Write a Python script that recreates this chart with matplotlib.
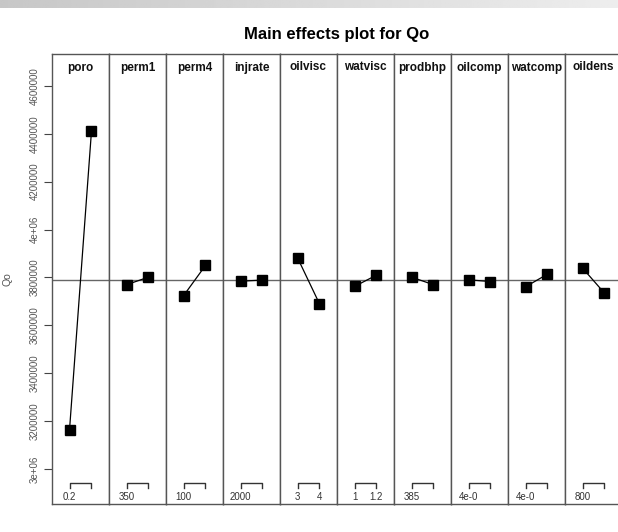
import numpy as np
import matplotlib
matplotlib.use("Agg")
import matplotlib.pyplot as plt
import matplotlib.transforms as mtransforms

plt.rcParams['font.family'] = ['Liberation Sans', 'DejaVu Sans']

# factor names and the mean response at level 1 / level 2
factors = ['poro', 'perm1', 'perm4', 'injrate', 'oilvisc',
           'watvisc', 'prodbhp', 'oilcomp', 'watcomp', 'oildens']
low_means = [3165000, 3769600, 3723700, 3784600, 3882000,
             3762500, 3801300, 3790000, 3761000, 3839000]
high_means = [4410000, 3801300, 3850000, 3788800, 3690000,
              3809600, 3769600, 3783000, 3813800, 3734600]
grand_mean = 3787500

# bottom labels that are visible in the picture (level 1, level 2)
level_labels = [('0.2', ''), ('350', ''), ('100', ''), ('2000', ''), ('3', '4'),
                ('1', '1.2'), ('385', ''), ('4e-0', ''), ('4e-0', ''), ('800', '')]

yticks = [3000000, 3200000, 3400000, 3600000, 3800000,
          4000000, 4200000, 4400000, 4600000]
ytick_labels = ['3e+06', '3200000', '3400000', '3600000', '3800000',
                '4e+06', '4200000', '4400000', '4600000']

W, H = 618, 532
fig = plt.figure(figsize=(W / 100, H / 100), dpi=100)

# screenshot bar on top
bar = fig.add_axes([0, 1 - 8 / H, 1, 8 / H])
grad = np.linspace(0.78, 0.93, 256).reshape(1, -1)
bar.imshow(grad, aspect='auto', cmap='gray', vmin=0, vmax=1)
bar.axis('off')

left, right = 52 / W, 622 / W
bottom, top = 1 - 504 / H, 1 - 54 / H
gs = fig.add_gridspec(1, len(factors), left=left, right=right,
                      bottom=bottom, top=top, wspace=0)

edge = '#555555'
for i, name in enumerate(factors):
    ax = fig.add_subplot(gs[0, i])
    ax.set_xlim(0.2, 2.8)
    ax.set_ylim(2854000, 4733000)
    ax.axhline(grand_mean, color='#666666', lw=1.0, zorder=1)
    ax.plot([1, 2], [low_means[i], high_means[i]], color='black', lw=0.9,
            marker='s', markersize=6.5, markerfacecolor='black',
            markeredgecolor='black', zorder=3)
    for s in ax.spines.values():
        s.set_color(edge)
        s.set_linewidth(1.0)
    ax.set_xticks([])
    ax.text(0.5, 0.97, name, transform=ax.transAxes, ha='center', va='center',
            fontsize=8.5, fontweight='bold', color='#111111')
    # level bracket and labels
    tr = mtransforms.blended_transform_factory(ax.transData, ax.transAxes)
    ax.plot([1, 1, 2, 2], [0.036, 0.047, 0.047, 0.036], transform=tr,
            color='#333333', lw=1.0, clip_on=False)
    for x, lab in zip([1, 2], level_labels[i]):
        if lab:
            ax.text(x, 0.016, lab, transform=tr, ha='center', va='center',
                    fontsize=7, color='#333333')
    if i == 0:
        ax.set_yticks(yticks)
        ax.set_yticklabels(ytick_labels, rotation=90, va='center',
                           fontsize=7, color='#555555')
        ax.tick_params(axis='y', length=6, color='#444444', pad=3)
        ax.set_ylabel('Qo', fontsize=7.5, color='#555555', labelpad=12)
    else:
        ax.tick_params(axis='y', left=False, labelleft=False)

fig.text((52 + 622) / 2 / W, 1 - 35 / H, 'Main effects plot for Qo',
         ha='center', va='center', fontsize=12, fontweight='bold')

fig.savefig('out.png', dpi=100)
